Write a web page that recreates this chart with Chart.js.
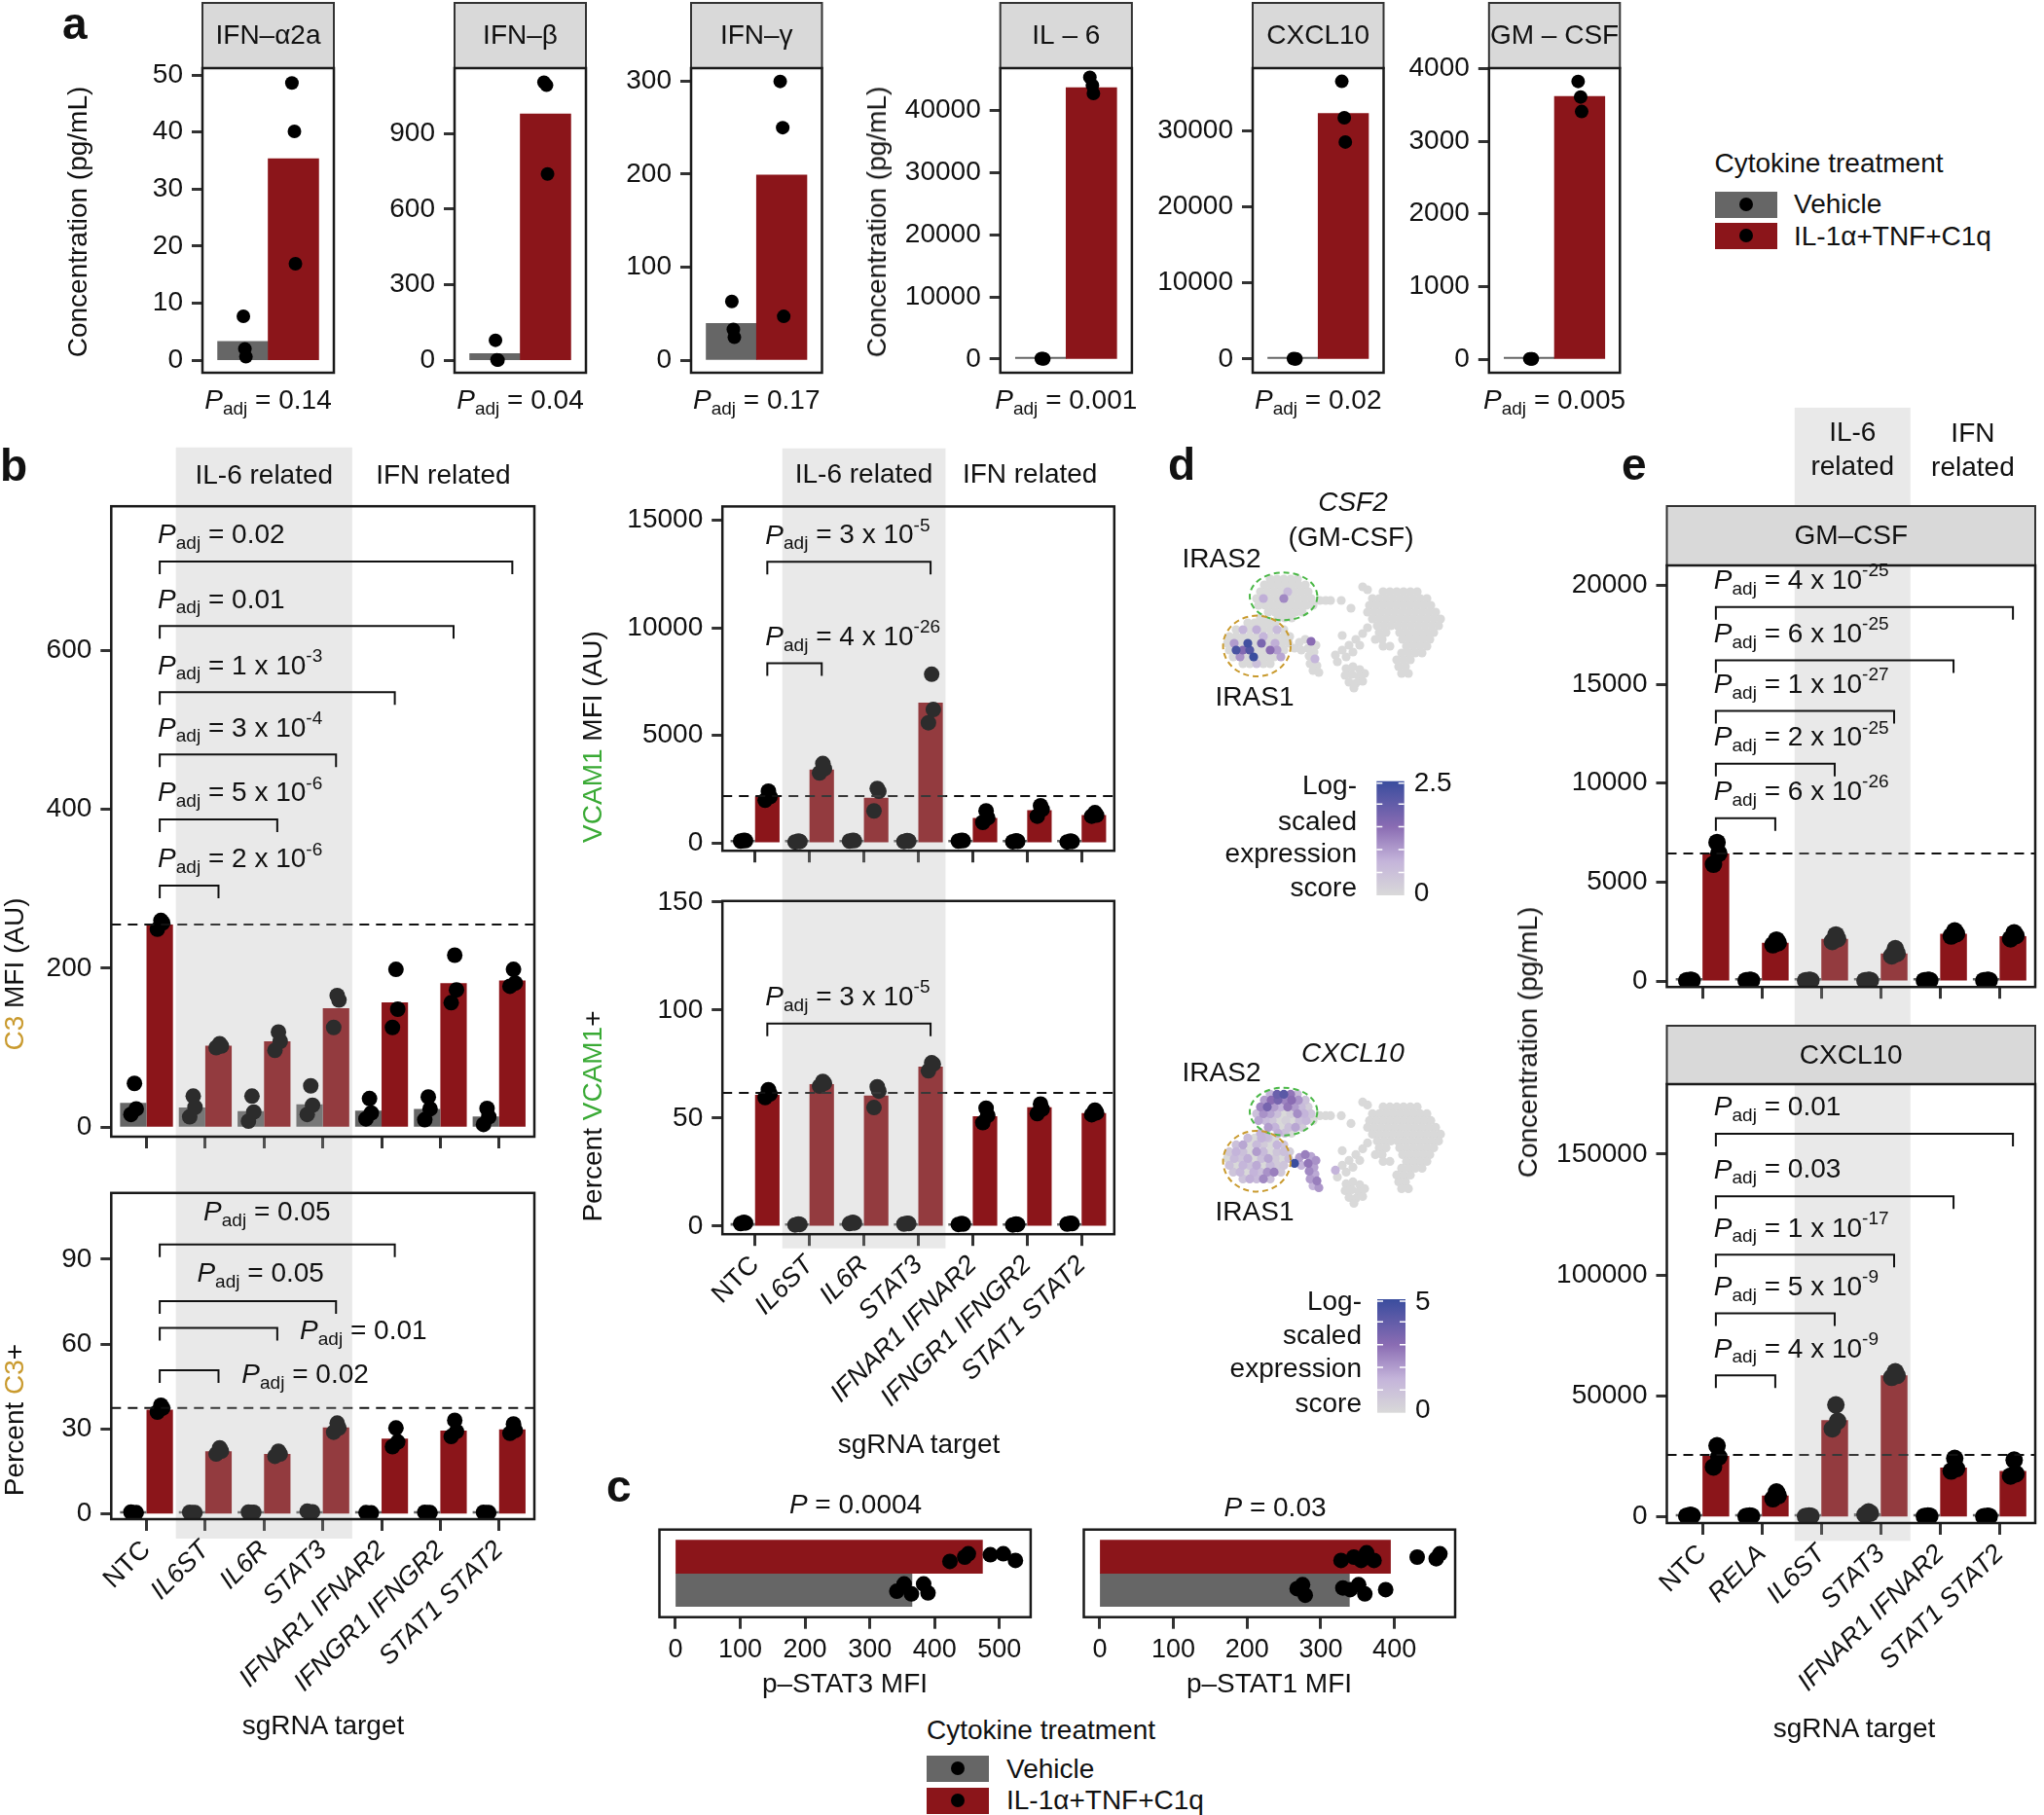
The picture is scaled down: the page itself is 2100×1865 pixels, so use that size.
<!DOCTYPE html>
<html>
<head>
<meta charset="utf-8">
<title>Cytokine treatment panels</title>
<script src="https://cdn.jsdelivr.net/npm/chart.js@4.4.1/dist/chart.umd.min.js"></script>
<style>
  html, body { margin: 0; padding: 0; background: #fff; }
  body { position: relative; width: 2100px; height: 1865px; overflow: hidden;
         font-family: 'Liberation Sans', Arial, Helvetica, sans-serif; color: #111; }
  canvas { position: absolute; }
  .t { position: absolute; white-space: nowrap; font-size: 28px; line-height: 1; }
  .letter { position: absolute; font-weight: bold; font-size: 46px; line-height: 1; }
  .ytitle { position: absolute; white-space: nowrap; font-size: 28px; line-height: 1;
            transform: translate(-50%, -50%) rotate(-90deg); }
  .xtitle { position: absolute; white-space: nowrap; font-size: 28px; line-height: 1;
            transform: translate(-50%, -50%); }
  .key { position: absolute; width: 64px; height: 27px; }
  .key span { position: absolute; left: 25px; top: 6px; width: 14px; height: 14px; border-radius: 50%; background: #000; }
</style>
</head>
<body>
<script>
const INK = '#111111';
const TICK = '#333333';
const RED = '#8b151a';
const GREY = '#666666';
const BAND = 'rgba(170,170,170,0.26)';
const GOLD = '#c99a2e';
const GREEN = '#3aaa35';
const FONT = "'Liberation Sans', Arial, Helvetica, sans-serif";
const DODGE = 0.225;
const Y_AXIS_W = 100;
const X_TICK = 12;
const X_LABELS_H = 190;

// ---------- a: secreted cytokines (pg/mL), vehicle vs IL-1α+TNF+C1q ----------
const aCytokines = ['IFN–α2a', 'IFN–β', 'IFN–γ', 'IL – 6', 'CXCL10', 'GM – CSF'];
const aVehicle = [3.3, 26, 39.5, 60, 45, 4];
const aTreated = [35.3, 979, 199, 43640, 32260, 3617];
const aVehicleDots = [[7.7, 2.0, 0.6], [79, 1, 0], [63, 33, 24.5], [80, 60, 40], [60, 45, 30], [5, 4, 3]];
const aTreatedDots = [[48.6, 40.1, 16.9], [1105, 1093, 740], [299.7, 250, 47], [45300, 44000, 42700], [36470, 31700, 28510], [3822, 3608, 3408]];
const aPadj = ['0.14', '0.04', '0.17', '0.001', '0.02', '0.005'];
const aYTicks = [[0, 10, 20, 30, 40, 50], [0, 300, 600, 900], [0, 100, 200, 300],
                 [0, 10000, 20000, 30000, 40000], [0, 10000, 20000, 30000], [0, 1000, 2000, 3000, 4000]];
const aJitter = [[0.01, 0.04, 0.06], [-0.03, 0.02, 0.04]];

// ---------- b: CRISPRi knockdowns, C3 and VCAM1 ----------
const bTargets = ['NTC', 'IL6ST', 'IL6R', 'STAT3', 'IFNAR1 IFNAR2', 'IFNGR1 IFNGR2', 'STAT1 STAT2'];
const DOT_JITTER = [0.02, 0.05, -0.04];

const c3MfiVehicle = [30.5, 24.7, 20.1, 28.8, 20.7, 23, 13.3];
const c3MfiTreated = [254.8, 102.4, 108, 149.5, 157, 181.2, 184.6];
const c3MfiVehicleDots = [[55, 23, 16], [39, 25, 13], [39, 19, 7.5], [52, 27.6, 16], [36, 17.8, 10.4], [38, 23, 9.3], [23.5, 13, 3.4]];
const c3MfiTreatedDots = [[260, 257, 249], [105, 102, 100], [119.7, 108, 96.6], [165.6, 159.9, 125.4], [198.4, 148.4, 125.4], [216.3, 172.6, 156.5], [198.4, 181.2, 177.2]];
const c3MfiTicks = [0, 200, 400, 600];
const c3MfiRef = 254.8;
const c3MfiCmp = [1, 2, 3, 4, 5, 6];
const c3MfiBracketY = [303.7, 387.1, 468.7, 547, 630.3, 711.5];
const c3MfiPadj = ['2e-6', '5e-6', '3e-4', '1e-3', '0.01', '0.02'];

const c3PctVehicle = [0.5, 0.5, 0.6, 0.8, 0.4, 0.5, 0.5];
const c3PctTreated = [36.9, 22.2, 21.2, 30.6, 26.6, 29.5, 29.9];
const c3PctVehicleDots = [[0.3, 0.5, 0.7], [0.4, 0.5, 0.6], [0.5, 0.6, 0.7], [0.6, 0.8, 1.0], [0.3, 0.4, 0.5], [0.4, 0.5, 0.6], [0.4, 0.5, 0.6]];
const c3PctTreatedDots = [[38.4, 37.4, 36.0], [23.4, 22.2, 21.2], [22.2, 21.2, 20.4], [32.1, 30.4, 28.9], [30.4, 25.5, 23.8], [33.1, 29.2, 27.4], [31.8, 29.5, 28.5]];
const c3PctTicks = [0, 30, 60, 90];
const c3PctRef = 37.5;
const c3PctCmp = [1, 2, 3, 4];
const c3PctBracketY = [50.8, 65.7, 75.2, 95.2];
const c3PctPadj = ['0.02', '0.01', '0.05', '0.05'];

const vcamMfiVehicle = [100, 60, 100, 80, 100, 70, 60];
const vcamMfiTreated = [2160, 3413, 2092, 6520, 1159, 1515, 1290];
const vcamMfiVehicleDots = [[120, 100, 80], [80, 60, 40], [120, 100, 80], [100, 80, 60], [120, 100, 80], [90, 70, 50], [80, 60, 40]];
const vcamMfiTreatedDots = [[2400, 2150, 1980], [3688, 3445, 3251], [2529, 2398, 1483], [7841, 6199, 5586], [1483, 1159, 951], [1722, 1560, 1240], [1402, 1290, 1240]];
const vcamMfiTicks = [0, 5000, 10000, 15000];
const vcamMfiRef = 2173;
const vcamMfiCmp = [1, 3];
const vcamMfiBracketY = [8359, 13075];
const vcamMfiPadj = ['4e-26', '3e-5'];

const vcamPctVehicle = [1.5, 0.8, 1.5, 1.2, 1, 0.8, 1.2];
const vcamPctTreated = [60.8, 65.8, 60.4, 73.9, 50.9, 55.1, 52.4];
const vcamPctVehicleDots = [[1.8, 1.5, 1.2], [1, 0.8, 0.6], [1.8, 1.5, 1.2], [1.4, 1.2, 1], [1.2, 1, 0.8], [1, 0.8, 0.6], [1.4, 1.2, 1]];
const vcamPctTreatedDots = [[63.2, 61.2, 59.5], [67, 66.1, 64.8], [64.5, 62.5, 54.9], [75.6, 75, 71.9], [54.6, 51.3, 47.9], [56.5, 54.2, 52.1], [53.7, 52.5, 51.6]];
const vcamPctTicks = [0, 50, 100, 150];
const vcamPctRef = 61.7;
const vcamPctCmp = [3];
const vcamPctBracketY = [93.8];
const vcamPctPadj = ['3e-5'];

// ---------- c: phospho-STAT MFI ----------
const pStat3Vehicle = 365, pStat3Treated = 473.8;
const pStat3VehicleDots = [341.6, 352.9, 364.2, 383, 389.8];
const pStat3TreatedDots = [423.6, 446.4, 452, 486, 506, 524.7];
const pStat1Vehicle = 338.8, pStat1Treated = 394.6;
const pStat1VehicleDots = [267.9, 275.3, 278.9, 330, 339.9, 351.4, 359.8, 388.1];
const pStat1TreatedDots = [327.5, 344.9, 354.8, 362.2, 372.3, 430.9, 456.7, 461.7];
const pStat3VehicleJit = [-0.04, 0.18, -0.12, 0.18, -0.09];
const pStat3TreatedJit = [-0.14, -0.01, 0.09, 0.06, 0.09, -0.11];
const pStat1VehicleJit = [0.04, 0.16, -0.16, 0.06, 0.01, 0.16, -0.12, 0.01];
const pStat1TreatedJit = [-0.11, -0.01, -0.11, 0.12, -0.11, -0.01, -0.06, 0.09];

// ---------- d: UMAP cells, rows of [UMAP_2, UMAP_1 list, CSF2 score list, CXCL10 score list] ----------
const iras2Rows = [
  [117, [50, 57, 64, 71, 78], [0, 0, 0, 0, 0], [1.5, 3.8, 4.2, 2.8, 1.2]],
  [111, [44, 51, 58, 65, 72, 79, 86], [0, 0, 0, 0, 0, 0, 0], [2.0, 3.0, 3.5, 2.5, 3.0, 2.2, 1.0]],
  [104, [40, 47, 54, 61, 68, 75, 82, 89], [0, 0, 0, 0, 0.6, 0, 0, 0], [2.5, 3.5, 2.0, 1.5, 2.8, 2.0, 1.2, 0.5]],
  [97, [36, 43, 50, 57, 64, 71, 78, 85, 92], [0, 0.8, 0, 0, 1.2, 0, 0, 0, 0], [1.0, 2.2, 1.8, 1.0, 0, 0.5, 2.3, 1.5, 0.8]],
  [90, [38, 45, 52, 59, 66, 73, 80, 87, 94], [0, 0, 0, 0, 0, 0, 0, 0, 0], [1.8, 1.2, 0.8, 0, 0.4, 0, 1.0, 1.3, 0]],
  [83, [48, 55, 62, 69, 76, 83], [0, 0, 0, 0, 0, 0], [2.0, 1.5, 0, 1.0, 1.8, 0.6]],
  [77, [40, 58, 65, 72], [0, 0, 0, 0], [1.5, 1.6, 1.0, 0]],
  [73, [46], [0], [1.2]],
  [95, [101, 107, 112], [0, 0, 0], [0, 0, 0]]
];
const iras1Rows = [
  [72, [27, 34, 41, 48, 55], [0, 0, 0, 0, 0], [1.2, 0, 1.5, 0.8, 0]],
  [65, [15, 22, 29, 36, 43, 50, 57, 64], [0, 0.7, 0, 0.8, 0, 0, 0.6, 0], [1.0, 1.8, 0, 1.2, 0.6, 0, 1.4, 0.8]],
  [58, [8, 15, 22, 29, 36, 43, 50, 57, 64, 70], [0, 0, 0, 0, 0, 0.7, 0, 0, 0, 0], [0.6, 1.5, 1.0, 0, 2.0, 1.2, 0, 0.8, 1.0, 0.5]],
  [51, [6, 13, 20, 27, 34, 41, 48, 55, 62, 69], [0, 1.0, 0, 2.4, 0, 1.7, 0, 0.8, 0, 0], [0, 1.2, 0.8, 1.6, 0, 1.0, 1.8, 0.6, 0, 1.1]],
  [44, [8, 15, 22, 29, 36, 43, 50, 57, 64], [0, 2.3, 1.6, 2.2, 0, 0, 1.5, 1.0, 0], [1.0, 0, 1.4, 0.9, 1.7, 0, 1.2, 0.6, 0.8]],
  [37, [12, 19, 26, 33, 40, 47, 54, 61], [0, 1.1, 0, 2.5, 0, 0, 0, 0.9], [0.8, 1.3, 0, 1.5, 1.0, 2.2, 2.6, 0.7]],
  [30, [22, 29, 36, 43, 50], [0, 0, 0.5, 0, 0], [0.9, 1.6, 1.2, 2.4, 1.0]]
];
const sideRows = [
  [55, [86], [0], [2.6]],
  [53, [92], [1.5], [1.8]],
  [52, [80], [0], [2.0]],
  [49, [97], [0], [2.2]],
  [46, [75, 89], [0, 0], [5.0, 2.8]],
  [44, [82], [0], [1.5]],
  [42, [95], [0], [1.9]],
  [39, [117], [0], [1.5]],
  [38, [90], [0], [2.4]],
  [35, [96], [0.7], [1.7]],
  [30, [91], [0], [2.0]],
  [28, [98], [0], [2.6]],
  [23, [94], [0], [1.5]],
  [21, [100], [0], [2.1]]
];
const mainRows = [
  [109, [145]], [106, [150]], [104, [166, 173, 180, 187, 194, 201]], [95, [123]], [87, [133]],
  [97, [155, 162, 169, 176, 183, 190, 197, 204, 211]],
  [90, [152, 159, 166, 173, 180, 187, 194, 201, 208, 215]],
  [83, [150, 157, 164, 171, 178, 185, 192, 199, 206, 213, 220]],
  [76, [155, 162, 169, 176, 183, 190, 197, 204, 211, 218, 225]],
  [69, [160, 167, 174, 181, 188, 195, 202, 209, 216, 223]],
  [67, [150]], [61, [145]], [59, [124]],
  [62, [162, 169, 183, 190, 197, 204, 211, 218]],
  [55, [138, 158, 165, 186, 193, 200, 207, 214]],
  [49, [131, 142]],
  [48, [166, 173, 190, 197, 204, 211]],
  [44, [124]], [42, [135]],
  [41, [185, 192, 199, 206]],
  [37, [128]], [34, [180, 187, 194]], [32, [119]],
  [27, [135, 182, 189]], [25, [128]], [24, [142]],
  [20, [147, 185, 192]], [19, [134]], [18, [127]], [17, [141]],
  [12, [145]], [11, [131]], [10, [138]], [5, [136]]
];
const csf2Max = 2.5, cxcl10Max = 5;

// ---------- e: knockdowns, secreted GM-CSF and CXCL10 ----------
const eTargets = ['NTC', 'RELA', 'IL6ST', 'STAT3', 'IFNAR1 IFNAR2', 'STAT1 STAT2'];
const gmcsfVehicle = [30, 30, 30, 30, 30, 30];
const gmcsfTreated = [6450, 1935, 2135, 1395, 2395, 2272];
const gmcsfVehicleDots = [[40, 30, 20], [40, 30, 20], [40, 30, 20], [40, 30, 20], [40, 30, 20], [40, 30, 20]];
const gmcsfTreatedDots = [[7000, 6450, 5900], [2073, 1935, 1835], [2334, 2135, 2000], [1637, 1395, 1275], [2533, 2395, 2276], [2433, 2300, 2135]];
const gmcsfTicks = [0, 5000, 10000, 15000, 20000];
const gmcsfRef = 6450;
const gmcsfCmp = [1, 2, 3, 4, 5];
const gmcsfBracketY = [8226, 10977, 13653, 16210, 18904];
const gmcsfPadj = ['6e-26', '2e-25', '1e-27', '6e-25', '4e-25'];

const cxcl10Vehicle = [500, 300, 300, 1500, 300, 200];
const cxcl10Treated = [25260, 8850, 39980, 58490, 20400, 19000];
const cxcl10VehicleDots = [[700, 500, 300], [400, 300, 200], [400, 300, 200], [2090, 1500, 900], [400, 300, 200], [300, 200, 100]];
const cxcl10TreatedDots = [[29440, 24820, 20630], [10300, 8800, 7500], [46300, 39600, 36400], [59980, 58490, 57700], [24180, 19990, 18950], [23500, 17800, 16900]];
const cxcl10Ticks = [0, 50000, 100000, 150000];
const cxcl10Ref = 25660;
const cxcl10Cmp = [1, 2, 3, 4, 5];
const cxcl10BracketY = [58490, 84150, 108370, 132540, 158410];
const cxcl10Padj = ['4e-9', '5e-9', '1e-17', '0.03', '0.01'];

// ---------- layout (page pixels) ----------
const aLayout = [
  { canvas: [40, 0, 320, 440], box: [208, 70, 343, 383], y: [-2.2, 51.2] },
  { canvas: [362, 0, 250, 440], box: [467, 70, 602, 383], y: [-50, 1161] },
  { canvas: [605, 0, 250, 440], box: [710, 70, 844.5, 383], y: [-13.6, 314] },
  { canvas: [860, 0, 310, 440], box: [1027.7, 70, 1162.9, 383], y: [-2190, 46770] },
  { canvas: [1170, 0, 262, 440], box: [1287, 70, 1421.5, 383], y: [-1790, 38210] },
  { canvas: [1425, 0, 250, 440], box: [1529.8, 70, 1664.3, 383], y: [-187, 4005] }
];

Chart.defaults.font.family = FONT;
Chart.defaults.color = INK;

function addCanvas(L, T, W, H) {
  const c = document.createElement('canvas');
  c.width = W; c.height = H;
  c.style.left = L + 'px'; c.style.top = T + 'px';
  c.style.width = W + 'px'; c.style.height = H + 'px';
  document.body.appendChild(c);
  return c;
}

function addDiv(cls, html, x, y) {
  const d = document.createElement('div');
  d.className = cls;
  d.innerHTML = html;
  d.style.left = x + 'px';
  d.style.top = y + 'px';
  document.body.appendChild(d);
  return d;
}

function fontStr(size, style) {
  return (style || '') + ' ' + size + 'px ' + FONT;
}

// text runs with sub/superscripts, e.g. P_adj = 3 x 10^-5
function drawRuns(ctx, runs, x, y, align) {
  let w = 0;
  runs.forEach(r => { ctx.font = fontStr(r.size, r.style); r.w = ctx.measureText(r.t).width; w += r.w; });
  let cx = align === 'center' ? x - w / 2 : (align === 'right' ? x - w : x);
  ctx.textAlign = 'left';
  ctx.textBaseline = 'middle';
  runs.forEach(r => {
    ctx.font = fontStr(r.size, r.style);
    ctx.fillStyle = r.color || INK;
    ctx.fillText(r.t, cx, y + (r.dy || 0));
    cx += r.w;
  });
}

function pRuns(label, sub, size) {
  const runs = [{ t: 'P', size, style: 'italic' }];
  if (sub) runs.push({ t: sub, size: size * 0.68, dy: size * 0.3 });
  const m = label.match(/^(\d+)e(-?\d+)$/);
  if (m) {
    runs.push({ t: ' = ' + m[1] + ' x 10', size });
    runs.push({ t: m[2], size: size * 0.68, dy: -size * 0.36 });
  } else {
    runs.push({ t: ' = ' + label, size });
  }
  return runs;
}

function drawText(ctx, text, x, y, align, size, style) {
  ctx.font = fontStr(size || 28, style);
  ctx.fillStyle = INK;
  ctx.textAlign = align || 'center';
  ctx.textBaseline = 'middle';
  ctx.fillText(text, x, y);
}

function drawStrip(ctx, x0, y0, x1, y1, text) {
  ctx.fillStyle = '#d9d9d9';
  ctx.fillRect(x0, y0, x1 - x0, y1 - y0);
  ctx.lineWidth = 2;
  ctx.strokeStyle = '#333';
  ctx.strokeRect(x0, y0, x1 - x0, y1 - y0);
  drawText(ctx, text, (x0 + x1) / 2, (y0 + y1) / 2 + 1, 'center', 28);
}

function drawBorder(ctx, a) {
  ctx.lineWidth = 2.5;
  ctx.strokeStyle = '#1a1a1a';
  ctx.strokeRect(a.left, a.top, a.right - a.left, a.bottom - a.top);
}

function baseOptions(o) {
  return {
    responsive: false, animation: false, devicePixelRatio: 1, events: [],
    indexAxis: o.indexAxis || 'x',
    layout: { padding: o.padding },
    plugins: { legend: { display: false }, tooltip: { enabled: false }, title: { display: false }, colors: { enabled: false } },
    scales: { x: o.x, y: o.y }
  };
}

function yAxis(range, ticks, width) {
  return {
    type: 'linear', min: range[0], max: range[1],
    afterBuildTicks: s => { s.ticks = ticks.map(v => ({ value: v })); },
    afterFit: s => { s.width = width || Y_AXIS_W; },
    grid: { drawOnChartArea: false, drawTicks: true, tickLength: 11, tickWidth: 3, tickColor: TICK },
    border: { display: false },
    ticks: { padding: 9, color: INK, font: { size: 28, family: FONT }, callback: v => String(v) }
  };
}

function xAxis(range, pos, labels) {
  return {
    type: 'linear', min: range[0], max: range[1], offset: false,
    afterBuildTicks: s => { s.ticks = pos.map(v => ({ value: v })); },
    afterFit: s => { s.height = labels ? X_LABELS_H : X_TICK; },
    grid: { drawOnChartArea: false, drawTicks: true, tickLength: X_TICK, tickWidth: 3, tickColor: TICK, offset: false },
    border: { display: false },
    ticks: labels ? {
      display: true, autoSkip: false, minRotation: 45, maxRotation: 45, padding: 4, color: INK,
      font: c => ({ family: FONT, size: 27, style: c.index === 0 ? 'normal' : 'italic' }),
      callback: v => labels[Math.round(v) - 1]
    } : { display: false }
  };
}

// ---------- a ----------
function pairChart(i) {
  const lay = aLayout[i];
  const [L, T, W, H] = lay.canvas;
  const [bx0, by0, bx1, by1] = lay.box;
  const cv = addCanvas(L, T, W, H);
  const dots = [];
  aVehicleDots[i].forEach((v, k) => dots.push({ x: 1 + aJitter[0][k], y: v }));
  aTreatedDots[i].forEach((v, k) => dots.push({ x: 2 + aJitter[1][k], y: v }));
  new Chart(cv, {
    type: 'bar',
    data: { datasets: [
      { type: 'bar', data: [{ x: 1, y: aVehicle[i] }, { x: 2, y: aTreated[i] }], backgroundColor: [GREY, RED],
        categoryPercentage: 1, barPercentage: 1, minBarLength: 2, order: 1 },
      { type: 'scatter', data: dots, pointRadius: 7, backgroundColor: '#000', borderColor: '#000',
        pointBackgroundColor: '#000', pointBorderWidth: 0, order: 0 }
    ] },
    options: baseOptions({
      padding: { left: bx0 - L - Y_AXIS_W, top: by0 - T, right: L + W - bx1, bottom: T + H - by1 },
      x: { type: 'linear', display: false, min: 0.2, max: 2.8, offset: false, afterBuildTicks: s => { s.ticks = []; } },
      y: yAxis(lay.y, aYTicks[i])
    }),
    plugins: [{
      id: 'pairDeco',
      afterDatasetsDraw(chart) {
        const { ctx, chartArea: a } = chart;
        ctx.save();
        drawStrip(ctx, a.left, 3 - T, a.right, a.top, aCytokines[i]);
        drawBorder(ctx, a);
        drawRuns(ctx, pRuns(aPadj[i], 'adj', 28), (a.left + a.right) / 2, 412 - T, 'center');
        ctx.restore();
      }
    }]
  });
}

// ---------- b / e ----------
function groupDeco(g) {
  return {
    id: 'groupDeco',
    afterDatasetsDraw(chart) {
      const { ctx, chartArea: a, scales: { x, y } } = chart;
      const T = g.canvas[1];
      ctx.save();
      if (g.dashed != null) {
        const py = y.getPixelForValue(g.dashed);
        ctx.setLineDash([10, 7]);
        ctx.lineWidth = 2;
        ctx.strokeStyle = INK;
        ctx.beginPath(); ctx.moveTo(a.left, py); ctx.lineTo(a.right, py); ctx.stroke();
        ctx.setLineDash([]);
      }
      if (g.band) {
        const x0 = x.getPixelForValue(g.band[0]), x1 = x.getPixelForValue(g.band[1]);
        const y0 = Math.max(0, g.bandY[0] - T), y1 = Math.min(chart.height, g.bandY[1] - T);
        ctx.fillStyle = BAND;
        ctx.fillRect(x0, y0, x1 - x0, y1 - y0);
      }
      if (g.strip) drawStrip(ctx, a.left, g.strip.top - T, a.right, a.top, g.strip.text);
      drawBorder(ctx, a);
      if (g.brackets) {
        const b = g.brackets;
        const xl = x.getPixelForValue(1 + DODGE);
        ctx.lineWidth = 2;
        ctx.strokeStyle = INK;
        b.targets.forEach((t, k) => {
          const xr = x.getPixelForValue(t + 1 + DODGE);
          const py = y.getPixelForValue(b.ys[k]);
          ctx.beginPath();
          ctx.moveTo(xl, py + 13); ctx.lineTo(xl, py); ctx.lineTo(xr, py); ctx.lineTo(xr, py + 13);
          ctx.stroke();
          let lx = xl - 2, ly = py - 26.5;
          if (b.labelAt) { lx = x.getPixelForValue(b.labelAt[k][0]); ly = y.getPixelForValue(b.labelAt[k][1]); }
          drawRuns(ctx, pRuns(b.labels[k], 'adj', 28), lx, ly, 'left');
        });
      }
      (g.headers || []).forEach(h => {
        const cx = (x.getPixelForValue(h.from) + x.getPixelForValue(h.to)) / 2;
        h.lines.forEach((ln, k) => drawText(ctx, ln, cx, h.ys[k] - T, 'center', 28));
      });
      ctx.restore();
    }
  };
}

function groupedChart(g) {
  const [L, T, W, H] = g.canvas;
  const [bx0, by0, bx1, by1] = g.box;
  const cv = addCanvas(L, T, W, H);
  const pos = g.targets.map((_, i) => i + 1);
  const yW = g.yAxisW || Y_AXIS_W;
  const xH = g.showLabels ? X_LABELS_H : X_TICK;
  const dots = [];
  g.vehicleDots.forEach((arr, i) => arr.forEach((v, k) => dots.push({ x: pos[i] - DODGE + DOT_JITTER[k], y: v })));
  g.treatedDots.forEach((arr, i) => arr.forEach((v, k) => dots.push({ x: pos[i] + DODGE + DOT_JITTER[k], y: v })));
  new Chart(cv, {
    type: 'bar',
    data: { datasets: [
      { type: 'bar', data: g.vehicle.map((v, i) => ({ x: pos[i], y: v })), backgroundColor: GREY,
        categoryPercentage: 0.9, barPercentage: 1, minBarLength: 3, order: 1 },
      { type: 'bar', data: g.treated.map((v, i) => ({ x: pos[i], y: v })), backgroundColor: RED,
        categoryPercentage: 0.9, barPercentage: 1, order: 1 },
      { type: 'scatter', data: dots, pointRadius: g.dotR, backgroundColor: '#000', borderColor: '#000',
        pointBackgroundColor: '#000', pointBorderWidth: 0, order: 0 }
    ] },
    options: baseOptions({
      padding: { left: bx0 - L - yW, top: by0 - T, right: L + W - bx1, bottom: T + H - by1 - xH },
      x: xAxis(g.xRange, pos, g.showLabels ? g.targets : null),
      y: yAxis(g.yRange, g.yTicks, yW)
    }),
    plugins: [groupDeco(g)]
  });
}

const bHeaders = y => [
  { lines: ['IL-6 related'], from: 1.5, to: 4.5, ys: [y] },
  { lines: ['IFN related'], from: 4.5, to: 7.6, ys: [y] }
];

aCytokines.forEach((_, i) => pairChart(i));

groupedChart({
  canvas: [0, 440, 560, 760], box: [114.3, 520.2, 549, 1168], yRange: [-12, 781], xRange: [0.4, 7.6],
  band: [1.5, 4.5], bandY: [459.8, 1200], headers: bHeaders(489), showLabels: false, dotR: 8,
  targets: bTargets, vehicle: c3MfiVehicle, treated: c3MfiTreated,
  vehicleDots: c3MfiVehicleDots, treatedDots: c3MfiTreatedDots, yTicks: c3MfiTicks, dashed: c3MfiRef,
  brackets: { targets: c3MfiCmp, ys: c3MfiBracketY, labels: c3MfiPadj }
});
groupedChart({
  canvas: [0, 1200, 560, 600], box: [114.3, 1216.3, 549, 1561], yRange: [-1.8, 113.4], xRange: [0.4, 7.6],
  band: [1.5, 4.5], bandY: [1200, 1581], showLabels: true, dotR: 8,
  targets: bTargets, vehicle: c3PctVehicle, treated: c3PctTreated,
  vehicleDots: c3PctVehicleDots, treatedDots: c3PctTreatedDots, yTicks: c3PctTicks, dashed: c3PctRef,
  brackets: { targets: c3PctCmp, ys: c3PctBracketY, labels: c3PctPadj,
              labelAt: [[2.62, 48.9], [3.61, 64.5], [1.86, 84.7], [1.97, 106.5]] }
});
groupedChart({
  canvas: [580, 440, 580, 460], box: [742.2, 520.4, 1144.8, 875.7], yRange: [-370, 15650], xRange: [0.4, 7.6],
  band: [1.5, 4.5], bandY: [460.7, 900], headers: bHeaders(488.2), showLabels: false, dotR: 8,
  targets: bTargets, vehicle: vcamMfiVehicle, treated: vcamMfiTreated,
  vehicleDots: vcamMfiVehicleDots, treatedDots: vcamMfiTreatedDots, yTicks: vcamMfiTicks, dashed: vcamMfiRef,
  brackets: { targets: vcamMfiCmp, ys: vcamMfiBracketY, labels: vcamMfiPadj }
});
groupedChart({
  canvas: [580, 900, 580, 610], box: [742.2, 911.5, 1144.8, 1268.2], yRange: [-3.7, 150.5], xRange: [0.4, 7.6],
  band: [1.5, 4.5], bandY: [900, 1282.7], showLabels: true, dotR: 8,
  targets: bTargets, vehicle: vcamPctVehicle, treated: vcamPctTreated,
  vehicleDots: vcamPctVehicleDots, treatedDots: vcamPctTreatedDots, yTicks: vcamPctTicks, dashed: vcamPctRef,
  brackets: { targets: vcamPctCmp, ys: vcamPctBracketY, labels: vcamPctPadj }
});

groupedChart({
  canvas: [1540, 400, 560, 640], box: [1712.5, 581, 2098.9, 1030], yRange: [-300, 21000], xRange: [0.4, 6.6],
  band: [2.55, 4.5], bandY: [418.9, 1040], strip: { top: 520, text: 'GM–CSF' }, showLabels: false, dotR: 9,
  yAxisW: 135,
  headers: [
    { lines: ['IL-6', 'related'], from: 2.55, to: 4.5, ys: [445, 480] },
    { lines: ['IFN', 'related'], from: 4.5, to: 6.6, ys: [446, 481] }
  ],
  targets: eTargets, vehicle: gmcsfVehicle, treated: gmcsfTreated,
  vehicleDots: gmcsfVehicleDots, treatedDots: gmcsfTreatedDots, yTicks: gmcsfTicks, dashed: gmcsfRef,
  brackets: { targets: gmcsfCmp, ys: gmcsfBracketY, labels: gmcsfPadj }
});
groupedChart({
  canvas: [1540, 1040, 560, 760], box: [1712.5, 1114, 2098.9, 1565], yRange: [-2530, 178900], xRange: [0.4, 6.6],
  band: [2.55, 4.5], bandY: [1040, 1583.3], strip: { top: 1054, text: 'CXCL10' }, showLabels: true, dotR: 9,
  yAxisW: 135,
  targets: eTargets, vehicle: cxcl10Vehicle, treated: cxcl10Treated,
  vehicleDots: cxcl10VehicleDots, treatedDots: cxcl10TreatedDots, yTicks: cxcl10Ticks, dashed: cxcl10Ref,
  brackets: { targets: cxcl10Cmp, ys: cxcl10BracketY, labels: cxcl10Padj }
});

// ---------- c ----------
function hbarChart(h) {
  const [L, T, W, H] = h.canvas;
  const [bx0, by0, bx1, by1] = h.box;
  const cv = addCanvas(L, T, W, H);
  const xH = 50;
  const dots = [];
  h.vehicleDots.forEach((v, k) => dots.push({ x: v, y: 1 + h.vehicleJit[k] }));
  h.treatedDots.forEach((v, k) => dots.push({ x: v, y: 2 + h.treatedJit[k] }));
  new Chart(cv, {
    type: 'bar',
    data: { datasets: [
      { type: 'bar', data: [{ x: h.vehicle, y: 1 }, { x: h.treated, y: 2 }], backgroundColor: [GREY, RED],
        categoryPercentage: 1, barPercentage: 1, order: 1 },
      { type: 'scatter', data: dots, pointRadius: 8, backgroundColor: '#000', borderColor: '#000',
        pointBackgroundColor: '#000', pointBorderWidth: 0, order: 0 }
    ] },
    options: baseOptions({
      indexAxis: 'y',
      padding: { left: bx0 - L, top: by0 - T, right: L + W - bx1, bottom: T + H - by1 - xH },
      x: {
        type: 'linear', min: h.xRange[0], max: h.xRange[1],
        afterBuildTicks: s => { s.ticks = h.ticks.map(v => ({ value: v })); },
        afterFit: s => { s.height = xH; },
        grid: { drawOnChartArea: false, drawTicks: true, tickLength: X_TICK, tickWidth: 3, tickColor: TICK },
        border: { display: false },
        ticks: { padding: 6, color: INK, minRotation: 0, maxRotation: 0, autoSkip: false,
                 font: { size: 27, family: FONT }, callback: v => String(v) }
      },
      y: { type: 'linear', display: false, min: 0.18, max: 2.82, offset: false, afterBuildTicks: s => { s.ticks = []; } }
    }),
    plugins: [{
      id: 'hbarDeco',
      afterDatasetsDraw(chart) {
        const { ctx, chartArea: a } = chart;
        ctx.save();
        drawBorder(ctx, a);
        drawRuns(ctx, pRuns(h.p, null, 28), h.titleAt[0] - L, h.titleAt[1] - T, 'center');
        ctx.restore();
      }
    }]
  });
}

hbarChart({
  canvas: [600, 1510, 470, 240], box: [677.5, 1571.7, 1058.9, 1661.7], xRange: [-24.7, 548.2],
  ticks: [0, 100, 200, 300, 400, 500], titleAt: [879, 1547], p: '0.0004',
  vehicle: pStat3Vehicle, treated: pStat3Treated, vehicleDots: pStat3VehicleDots, treatedDots: pStat3TreatedDots,
  vehicleJit: pStat3VehicleJit, treatedJit: pStat3TreatedJit
});
hbarChart({
  canvas: [1075, 1510, 440, 240], box: [1113.5, 1571.7, 1495, 1661.7], xRange: [-21.7, 482.4],
  ticks: [0, 100, 200, 300, 400], titleAt: [1310, 1550], p: '0.03',
  vehicle: pStat1Vehicle, treated: pStat1Treated, vehicleDots: pStat1VehicleDots, treatedDots: pStat1TreatedDots,
  vehicleJit: pStat1VehicleJit, treatedJit: pStat1TreatedJit
});

// ---------- d ----------
const EXPR_STOPS = [[0, [217, 217, 217]], [0.3, [196, 180, 218]], [0.6, [138, 108, 179]], [1, [58, 77, 158]]];
function exprColor(t) {
  t = Math.max(0, Math.min(1, t));
  for (let i = 1; i < EXPR_STOPS.length; i++) {
    const [t1, c1] = EXPR_STOPS[i];
    const [t0, c0] = EXPR_STOPS[i - 1];
    if (t <= t1) {
      const f = (t - t0) / (t1 - t0);
      return 'rgb(' + c0.map((c, k) => Math.round(c + (c1[k] - c) * f)).join(',') + ')';
    }
  }
  return 'rgb(58,77,158)';
}

function cellsFrom(rows, geneIdx) {
  const out = [];
  rows.forEach(r => r[1].forEach((u1, k) => out.push({ x: u1, y: r[0], s: geneIdx && r[geneIdx] ? r[geneIdx][k] : 0 })));
  return out;
}

const UMAP_RINGS = [
  { c: [63.7, 99.2], r: [34.7, 24.5], color: '#4cb848' },
  { c: [36.3, 48.2], r: [34.7, 31.2], color: GOLD }
];

function umapChart(u) {
  const [L, T, W, H] = u.canvas;
  const [bx0, by0, bx1, by1] = u.box;
  const cv = addCanvas(L, T, W, H);
  const cells = [].concat(cellsFrom(mainRows, 0), cellsFrom(iras2Rows, u.gene), cellsFrom(iras1Rows, u.gene), cellsFrom(sideRows, u.gene))
    .sort((p, q) => p.s - q.s);
  new Chart(cv, {
    type: 'scatter',
    data: { datasets: [{
      data: cells.map(p => ({ x: p.x, y: p.y })),
      pointRadius: 4.6, pointBorderWidth: 0,
      backgroundColor: '#d9d9d9', borderColor: '#d9d9d9',
      pointBackgroundColor: cells.map(p => exprColor(p.s / u.max))
    }] },
    options: baseOptions({
      padding: { left: bx0 - L, top: by0 - T, right: L + W - bx1, bottom: T + H - by1 },
      x: { type: 'linear', display: false, min: 0, max: 230 },
      y: { type: 'linear', display: false, min: 0, max: 130 }
    }),
    plugins: [{
      id: 'umapDeco',
      afterDatasetsDraw(chart) {
        const { ctx, scales: { x, y } } = chart;
        ctx.save();
        ctx.setLineDash([6, 4]);
        ctx.lineWidth = 2;
        UMAP_RINGS.forEach(r => {
          const cx = x.getPixelForValue(r.c[0]), cy = y.getPixelForValue(r.c[1]);
          const rx = x.getPixelForValue(r.c[0] + r.r[0]) - cx, ry = cy - y.getPixelForValue(r.c[1] + r.r[1]);
          ctx.strokeStyle = r.color;
          ctx.beginPath(); ctx.ellipse(cx, cy, rx, ry, 0, 0, Math.PI * 2); ctx.stroke();
        });
        ctx.setLineDash([]);
        u.title.forEach(t => drawText(ctx, t.text, t.at[0] - L, t.at[1] - T, 'center', 28, t.style));
        drawText(ctx, 'IRAS2', u.iras2At[0] - L, u.iras2At[1] - T, 'center', 28);
        drawText(ctx, 'IRAS1', u.iras1At[0] - L, u.iras1At[1] - T, 'center', 28);
        // colour bar
        const [cx0, cy0, cx1, cy1] = u.bar;
        const gx0 = cx0 - L, gy0 = cy0 - T, gw = cx1 - cx0, gh = cy1 - cy0;
        const grad = ctx.createLinearGradient(0, gy0 + gh, 0, gy0);
        EXPR_STOPS.forEach(s => grad.addColorStop(s[0], 'rgb(' + s[1].join(',') + ')'));
        ctx.fillStyle = grad;
        ctx.fillRect(gx0, gy0, gw, gh);
        ctx.strokeStyle = '#fff';
        ctx.lineWidth = 1.5;
        for (let k = 1; k <= 5; k++) {
          const ty = gy0 + gh - gh * k / 5 + (k === 5 ? 2 : 0);
          ctx.beginPath();
          ctx.moveTo(gx0, ty); ctx.lineTo(gx0 + 6, ty);
          ctx.moveTo(gx0 + gw - 6, ty); ctx.lineTo(gx0 + gw, ty);
          ctx.stroke();
        }
        drawText(ctx, String(u.max), cx1 + 10 - L, cy0 + 3 - T, 'left', 28);
        drawText(ctx, '0', cx1 + 10 - L, cy1 - 2 - T, 'left', 28);
        u.legendLines.forEach((ln, k) => drawText(ctx, ln, u.legendRight - L, u.legendYs[k] - T, 'right', 28));
        ctx.restore();
      }
    }]
  });
}

umapChart({
  canvas: [1175, 450, 360, 500], box: [1255, 582, 1485, 712], gene: 2, max: csf2Max,
  title: [{ text: 'CSF2', at: [1390, 517], style: 'italic' }, { text: '(GM-CSF)', at: [1388, 553] }],
  iras2At: [1255, 575], iras1At: [1289, 717],
  bar: [1414.3, 802.7, 1442.7, 920], legendRight: 1394,
  legendLines: ['Log-', 'scaled', 'expression', 'score'], legendYs: [808, 845, 878, 913]
});
umapChart({
  canvas: [1175, 980, 360, 500], box: [1255, 1111.4, 1485, 1241.4], gene: 3, max: cxcl10Max,
  title: [{ text: 'CXCL10', at: [1390, 1083], style: 'italic' }],
  iras2At: [1255, 1103], iras1At: [1289, 1246],
  bar: [1415, 1335, 1444, 1451.7], legendRight: 1399,
  legendLines: ['Log-', 'scaled', 'expression', 'score'], legendYs: [1338, 1373, 1407, 1443]
});

// ---------- HTML text: panel letters, axis titles, legends ----------
[['a', 64, 1], ['b', 0, 455], ['c', 623, 1504], ['d', 1200, 454], ['e', 1666, 454]]
  .forEach(([t, x, y]) => addDiv('letter', t, x, y));

addDiv('ytitle', 'Concentration (pg/mL)', 80, 228);
addDiv('ytitle', 'Concentration (pg/mL)', 901, 228);
addDiv('ytitle', '<span style="color:' + GOLD + '">C3</span> MFI (AU)', 15, 1001);
addDiv('ytitle', 'Percent <span style="color:' + GOLD + '">C3</span>+', 15, 1459);
addDiv('ytitle', '<span style="color:' + GREEN + '">VCAM1</span> MFI (AU)', 609, 757);
addDiv('ytitle', 'Percent <span style="color:' + GREEN + '">VCAM1</span>+', 609, 1147);
addDiv('ytitle', 'Concentration (pg/mL)', 1570, 1071);

addDiv('xtitle', 'sgRNA target', 332, 1773);
addDiv('xtitle', 'sgRNA target', 944, 1484);
addDiv('xtitle', 'p–STAT3 MFI', 868, 1730);
addDiv('xtitle', 'p–STAT1 MFI', 1304, 1730);
addDiv('xtitle', 'sgRNA target', 1905, 1776);

function treatmentLegend(x, titleY, keyYs, labelX) {
  addDiv('t', 'Cytokine treatment', x, titleY - 14);
  [[GREY, 'Vehicle'], [RED, 'IL-1α+TNF+C1q']].forEach(([col, label], k) => {
    const key = addDiv('key', '<span></span>', x, keyYs[k]);
    key.style.background = col;
    addDiv('t', label, labelX, keyYs[k] + 13.5 - 14);
  });
}
treatmentLegend(1761.5, 168, [196.7, 229], 1843);
treatmentLegend(952, 1778, [1804.3, 1836.7], 1034);
</script>
</body>
</html>
